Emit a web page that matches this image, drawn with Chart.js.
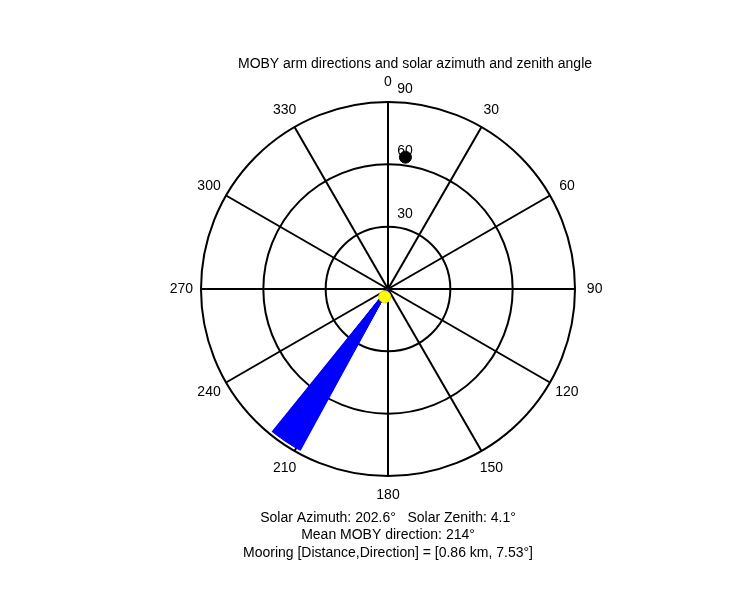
<!DOCTYPE html>
<html><head><meta charset="utf-8">
<script src="https://cdn.jsdelivr.net/npm/chart.js@4"></script>
<style>html,body{margin:0;padding:0;background:#fff}#w{width:750px;height:600px}</style>
</head><body><div id="w"><canvas id="c" width="750" height="600"></canvas></div>
<script>
const armDirections = [208.6,208.8,209.0,209.2,209.4,209.6,209.8,210.0,210.2,210.4,210.6,210.8,211.0,211.2,211.4,211.6,211.8,212.0,212.2,212.4,212.6,212.8,213.0,213.2,213.4,213.6,213.8,214.0,214.2,214.4,214.6,214.8,215.0,215.2,215.4,215.6,215.8,216.0,216.2,216.4,216.6,216.8,217.0,217.2,217.4,217.6,217.8,218.0,218.2,218.4,218.6,218.8,219.0];
const armLengths = [88.5];
const solarAzimuth = [202.6];
const solarZenith = [4.1];
const mooringDirection = [7.53];
const mooringRadius = [64];
const ringValues = [30,60,90];
const spokeAngles = [0,30,60,90,120,150,180,210,240,270,300,330];
const titleText = 'MOBY arm directions and solar azimuth and zenith angle';
const footerLines = ['Solar Azimuth: 202.6\u00B0   Solar Zenith: 4.1\u00B0','Mean MOBY direction: 214\u00B0','Mooring [Distance,Direction] = [0.86 km, 7.53\u00B0]'];

function pol(th, r){const a=th*Math.PI/180;return {x:r*Math.sin(a),y:r*Math.cos(a)};}
const datasets=[];
datasets.push({data:[pol(solarAzimuth[0],solarZenith[0])],pointRadius:6,backgroundColor:'#ffff00',borderColor:'#e8d800',borderWidth:1,showLine:false});
datasets.push({data:[pol(mooringDirection[0],mooringRadius[0])],pointRadius:6,backgroundColor:'#000',borderColor:'#000',showLine:false});
armDirections.forEach(d=>{datasets.push({data:[{x:0,y:0},pol(d,armLengths[0])],showLine:true,borderColor:'#0000ff',borderWidth:1.5,pointRadius:0});});

const F='14px "Liberation Sans", Arial, sans-serif';
const gridPlugin={id:'grid',beforeDatasetsDraw(ch){
 const c=ch.ctx,xs=ch.scales.x,ys=ch.scales.y;
 const cx=xs.getPixelForValue(0),cy=ys.getPixelForValue(0),k=(xs.getPixelForValue(90)-cx)/90;
 c.save();c.strokeStyle='#000';c.lineWidth=2;
 ringValues.forEach(r=>{c.beginPath();c.arc(cx,cy,r*k,0,2*Math.PI);c.stroke();});
 spokeAngles.forEach(a=>{const p=pol(a,90);c.beginPath();c.moveTo(cx,cy);c.lineTo(cx+p.x*k,cy-p.y*k);c.stroke();});
 c.fillStyle='#000';c.font=F;c.textAlign='center';c.textBaseline='middle';
 spokeAngles.forEach(a=>{const p=pol(a,90*1.105);c.fillText(String(a),cx+p.x*k,cy-p.y*k);});
 ringValues.forEach(r=>{c.fillText(String(r),cx+17,cy-r*k-13);});
 c.fillText(titleText,415,64);
 footerLines.forEach((t,i)=>c.fillText(t,388,518+i*17.5));
 c.restore();}};

new Chart(document.getElementById('c'),{type:'scatter',data:{datasets},
 options:{responsive:false,animation:false,events:[],
  layout:{padding:{left:201,right:175,top:102,bottom:124}},
  plugins:{legend:{display:false},tooltip:{enabled:false}},
  scales:{x:{display:false,min:-90,max:90},y:{display:false,min:-90,max:90}},
  elements:{line:{tension:0}}},
 plugins:[gridPlugin]});
</script></body></html>
